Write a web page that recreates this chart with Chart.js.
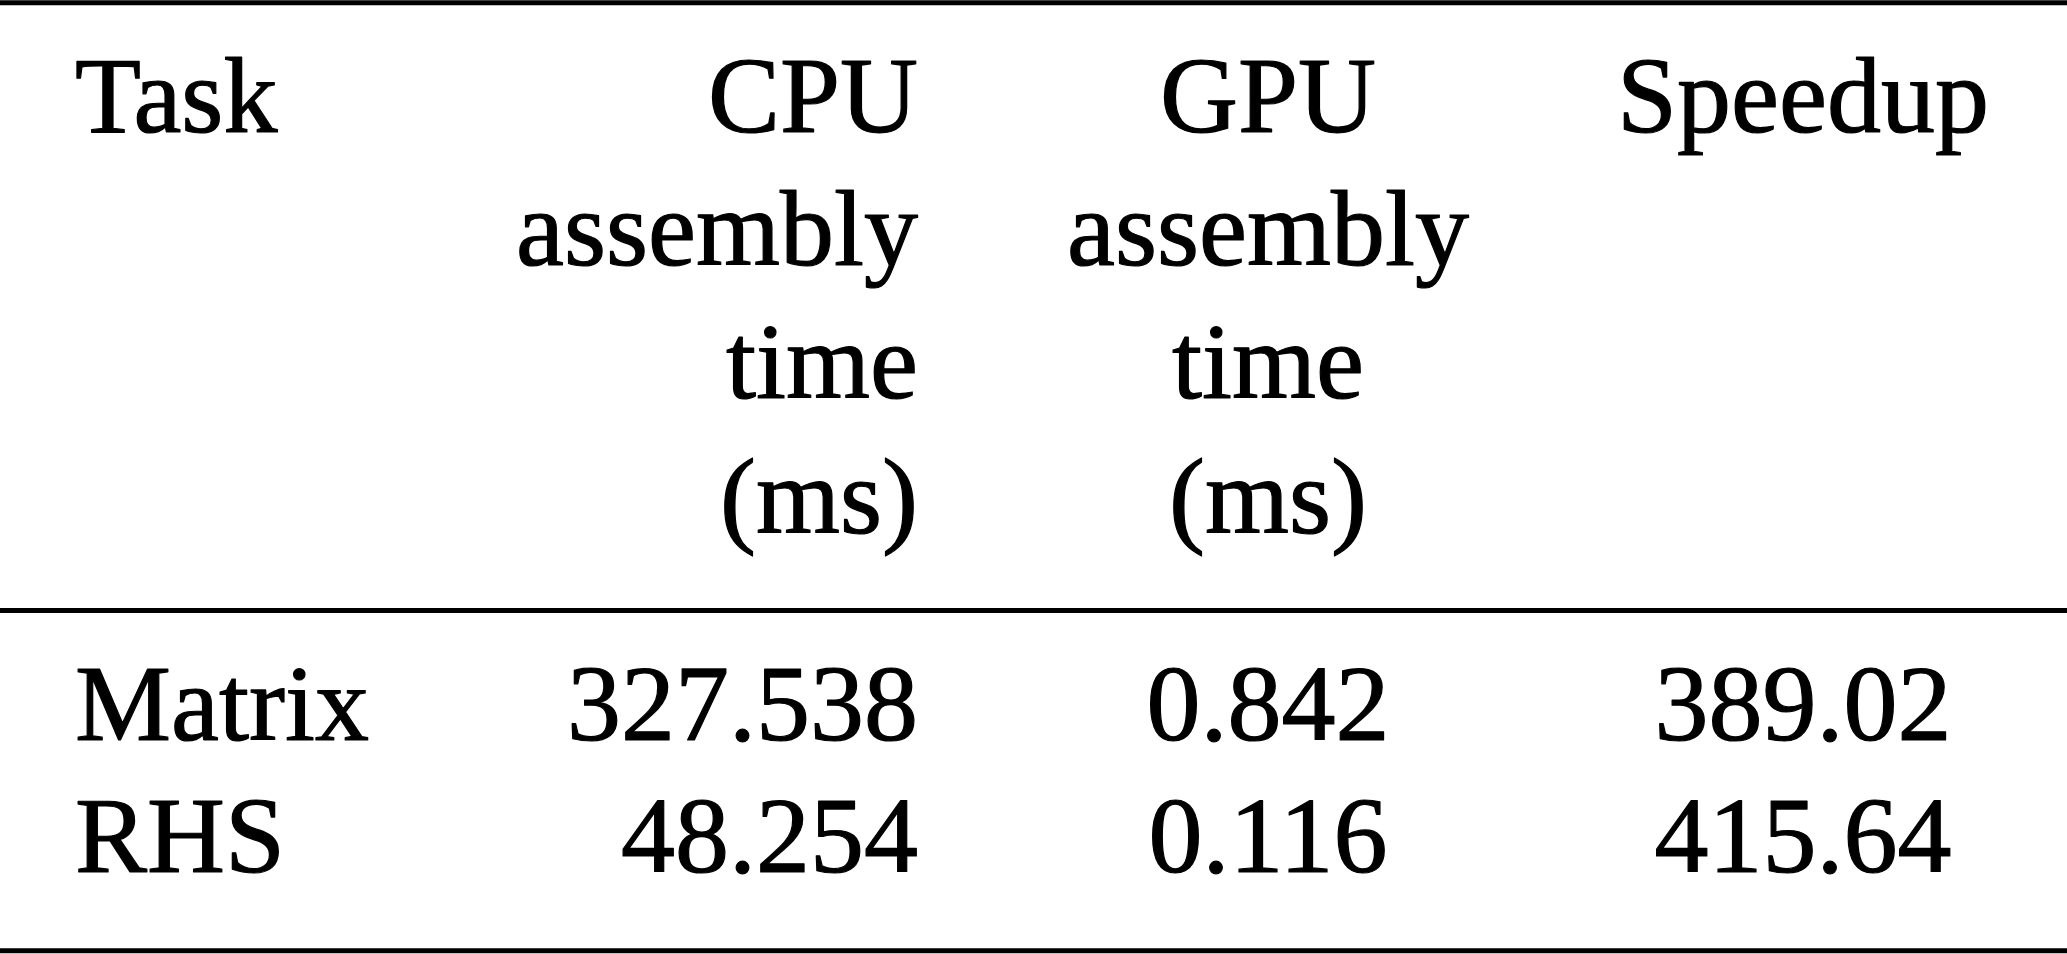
<!DOCTYPE html>
<html>
<head>
<meta charset="utf-8">
<script src="https://cdn.jsdelivr.net/npm/chart.js@4"></script>
<style>
  html, body { margin: 0; padding: 0; background: #ffffff; }
  #wrap { width: 2067px; height: 954px; position: relative; }
</style>
</head>
<body>
<div id="wrap"><canvas id="c"></canvas></div>
<script>
// ---- data ----
const headerTask = ['Task'];
const headerCPU = ['CPU', 'assembly', 'time', '(ms)'];
const headerGPU = ['GPU', 'assembly', 'time', '(ms)'];
const headerSpeedup = ['Speedup'];
const tasks = ['Matrix', 'RHS'];
const cpuTime = [327.538, 48.254];
const gpuTime = [0.842, 0.116];
const speedup = [389.02, 415.64];

// ---- layout (table units, mapped through the chart scales) ----
const colAnchor = [75, 918, 1268, 1803];
const colAlign = ['left', 'right', 'center', 'center'];
const headerBaseline = [132, 265, 398, 533];
const rowBaseline = [740, 872];
const ruleY = [2.75, 610.5, 950.7];
const tableWidth = 2067, tableHeight = 954;
const fontPx = 108;

function textDataset(col, texts, baselines) {
  return {
    type: 'scatter',
    label: 'col' + col,
    data: texts.map((t, i) => ({ x: colAnchor[col], y: baselines[i], text: t })),
    pointRadius: 0,
    pointHoverRadius: 0,
    align: colAlign[col]
  };
}
function ruleDataset(y) {
  return {
    type: 'scatter',
    label: 'rule',
    data: [{ x: 0, y: y }, { x: tableWidth, y: y }],
    showLine: true,
    borderColor: '#000000',
    borderWidth: 5,
    pointRadius: 0,
    pointHoverRadius: 0,
    isRule: true
  };
}

const datasets = [
  ruleDataset(ruleY[0]), ruleDataset(ruleY[1]), ruleDataset(ruleY[2]),
  textDataset(0, headerTask, headerBaseline),
  textDataset(1, headerCPU, headerBaseline),
  textDataset(2, headerGPU, headerBaseline),
  textDataset(3, headerSpeedup, headerBaseline),
  textDataset(0, tasks, rowBaseline),
  textDataset(1, cpuTime.map(v => v.toFixed(3)), rowBaseline),
  textDataset(2, gpuTime.map(v => v.toFixed(3)), rowBaseline),
  textDataset(3, speedup.map(v => v.toFixed(2)), rowBaseline)
];

const cellText = {
  id: 'cellText',
  afterDatasetsDraw(chart) {
    const ctx = chart.ctx;
    ctx.save();
    ctx.fillStyle = '#000000';
    ctx.strokeStyle = '#000000';
    ctx.lineWidth = 1.2;
    ctx.lineJoin = 'round';
    ctx.font = fontPx + 'px "Liberation Serif", "Times New Roman", serif';
    ctx.textBaseline = 'alphabetic';
    chart.data.datasets.forEach((ds, di) => {
      if (ds.isRule) return;
      const meta = chart.getDatasetMeta(di);
      ctx.textAlign = ds.align;
      meta.data.forEach((el, i) => {
        ctx.fillText(ds.data[i].text, el.x, el.y);
        ctx.strokeText(ds.data[i].text, el.x, el.y);
      });
    });
    ctx.restore();
  }
};

new Chart(document.getElementById('c'), {
  type: 'scatter',
  data: { datasets },
  options: {
    responsive: true,
    maintainAspectRatio: false,
    animation: false,
    events: [],
    layout: { padding: 0 },
    plugins: { legend: { display: false }, tooltip: { enabled: false } },
    scales: {
      x: { type: 'linear', min: 0, max: tableWidth, display: false },
      y: { type: 'linear', min: 0, max: tableHeight, reverse: true, display: false }
    }
  },
  plugins: [cellText]
});
</script>
</body>
</html>
